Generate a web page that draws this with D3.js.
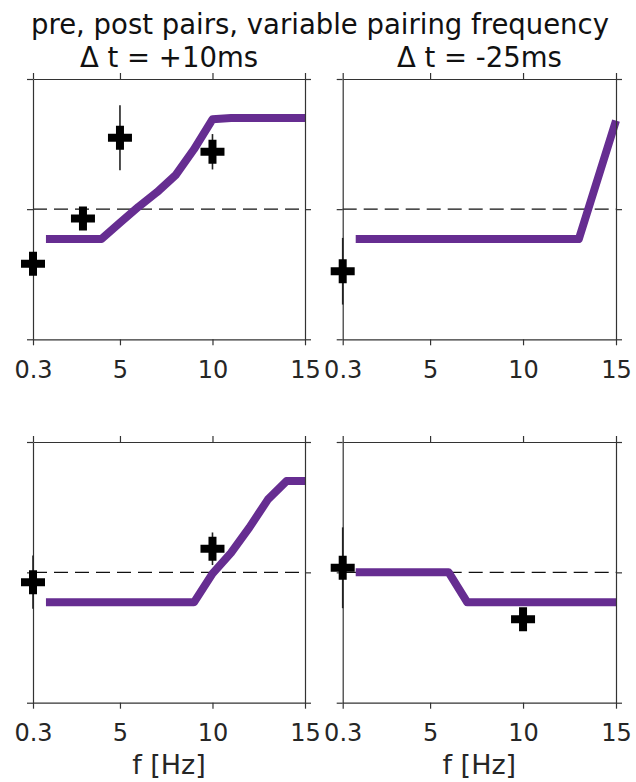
<!DOCTYPE html>
<html>
<head>
<meta charset="utf-8">
<script src="https://cdn.jsdelivr.net/npm/d3@7"></script>
<style>
  body { margin: 0; background: #fff; }
  svg { display: block; font-family: "DejaVu Sans", sans-serif; }
</style>
</head>
<body>
<svg id="chart" width="636" height="782"></svg>
<script>
// ---------------- data ----------------
const suptitle = "pre, post pairs, variable pairing frequency";
const columnTitles = ["\u0394 t = +10ms", "\u0394 t = -25ms"];
const xLabel = "f [Hz]";
const xTicks = [0.3, 5, 10, 15];
const yTicks = [-1, 0, 1];
const baseline = 0;

const modelFreq = [1, 2, 3, 4, 5, 6, 7, 8, 9, 10, 11, 12, 13, 14, 15];
// model curves (relative weight change, arbitrary units)
const modelA = [-0.23, -0.23, -0.23, -0.23, -0.105, 0.018, 0.13, 0.26, 0.46, 0.69, 0.70, 0.70, 0.70, 0.70, 0.70];
const modelB = [-0.23, -0.23, -0.23, -0.23, -0.23, -0.23, -0.23, -0.23, -0.23, -0.23, -0.23, -0.23, -0.23, 0.225, 0.68];
const modelC = [-0.23, -0.23, -0.23, -0.23, -0.23, -0.23, -0.23, -0.23, -0.23, -0.01, 0.15, 0.345, 0.56, 0.70, 0.70];
const modelD = [0, 0, 0, 0, 0, 0, -0.23, -0.23, -0.23, -0.23, -0.23, -0.23, -0.23, -0.23, -0.23];

// experimental points
const expFreqA = [0.3, 3, 5, 10];
const expValA  = [-0.42, -0.072, 0.548, 0.441];
const expErrA  = [0.04, 0.04, 0.25, 0.136];

const expFreqB = [0.3];
const expValB  = [-0.477];
const expErrB  = [0.256];

const expFreqC = [0.3, 10];
const expValC  = [-0.075, 0.181];
const expErrC  = [0.205, 0.125];

const expFreqD = [0.3, 10];
const expValD  = [0.035, -0.36];
const expErrD  = [0.31, 0.04];

// ---------------- layout ----------------
const svg = d3.select("#chart");
const purple = "#662d91";
const axisColor = "#333";
const textColor = "#262626";

const panels = [
  { x0: 33,    x1: 305, y0: 79,  y1: 339.3, model: modelA, f: expFreqA, v: expValA, e: expErrA, bottomRow: false },
  { x0: 342.7, x1: 616, y0: 79,  y1: 339.3, model: modelB, f: expFreqB, v: expValB, e: expErrB, bottomRow: false },
  { x0: 33,    x1: 305, y0: 442, y1: 702.7, model: modelC, f: expFreqC, v: expValC, e: expErrC, bottomRow: true },
  { x0: 342.7, x1: 616, y0: 442, y1: 702.7, model: modelD, f: expFreqD, v: expValD, e: expErrD, bottomRow: true }
];

svg.append("rect").attr("width", 636).attr("height", 782).attr("fill", "#fff");

// titles
svg.append("text")
  .attr("x", 320).attr("y", 34)
  .attr("text-anchor", "middle")
  .attr("font-size", 27.5)
  .attr("fill", "#111")
  .text(suptitle);

panels.slice(0, 2).forEach((p, i) => {
  svg.append("text")
    .attr("x", (p.x0 + p.x1) / 2).attr("y", 67)
    .attr("text-anchor", "middle")
    .attr("font-size", 27.5)
    .attr("fill", "#111")
    .text(columnTitles[i]);
});

panels.forEach(p => {
  const x = d3.scaleLinear().domain([0.3, 15]).range([p.x0, p.x1]);
  const y = d3.scaleLinear().domain([-1, 1]).range([p.y1, p.y0]);
  const g = svg.append("g");

  // dashed baseline
  g.append("line")
    .attr("x1", p.x0).attr("x2", p.x1)
    .attr("y1", y(baseline)).attr("y2", y(baseline))
    .attr("stroke", "#111").attr("stroke-width", 1.2)
    .attr("stroke-dasharray", "14,7");

  // model line
  const line = d3.line().x((d, i) => x(modelFreq[i])).y(d => y(d));
  g.append("path")
    .datum(p.model)
    .attr("d", line)
    .attr("fill", "none")
    .attr("stroke", purple)
    .attr("stroke-width", 8)
    .attr("stroke-linejoin", "round")
    .attr("stroke-linecap", "butt");

  // axes (frame)
  const mk = (gen, tx, ty, vals, fmt) => {
    const a = g.append("g").attr("transform", `translate(${tx},${ty})`)
      .style("color", axisColor)
      .call(gen.tickValues(vals).tickSizeInner(6).tickSizeOuter(0).tickFormat(fmt));
    a.selectAll("path.domain").attr("stroke-width", 1.2);
    a.selectAll(".tick line").attr("stroke-width", 1.2);
    return a;
  };
  const bottom = mk(d3.axisBottom(x), 0, p.y1, xTicks, d => String(d));
  bottom.selectAll(".tick text")
    .attr("y", 38.7).attr("dy", null)
    .attr("font-size", 24)
    .attr("font-family", "DejaVu Sans, sans-serif")
    .attr("fill", textColor);
  mk(d3.axisTop(x), 0, p.y0, xTicks, () => "");
  mk(d3.axisLeft(y), p.x0, 0, yTicks, () => "");
  mk(d3.axisRight(y), p.x1, 0, yTicks, () => "");

  // error bars
  g.selectAll("line.err")
    .data(p.f)
    .join("line")
    .attr("class", "err")
    .attr("x1", d => x(d)).attr("x2", d => x(d))
    .attr("y1", (d, i) => y(p.v[i] - p.e[i]))
    .attr("y2", (d, i) => y(p.v[i] + p.e[i]))
    .attr("stroke", "#222").attr("stroke-width", 1.6);

  // markers
  g.selectAll("path.mark")
    .data(p.f)
    .join("path")
    .attr("class", "mark")
    .attr("transform", (d, i) => `translate(${x(d)},${y(p.v[i])})`)
    .attr("d", d3.symbol(d3.symbolCross, 320))
    .attr("fill", "#000");

  if (p.bottomRow) {
    svg.append("text")
      .attr("x", (p.x0 + p.x1) / 2).attr("y", 774)
      .attr("text-anchor", "middle")
      .attr("font-size", 27)
      .attr("fill", textColor)
      .text(xLabel);
  }
});
</script>
</body>
</html>
